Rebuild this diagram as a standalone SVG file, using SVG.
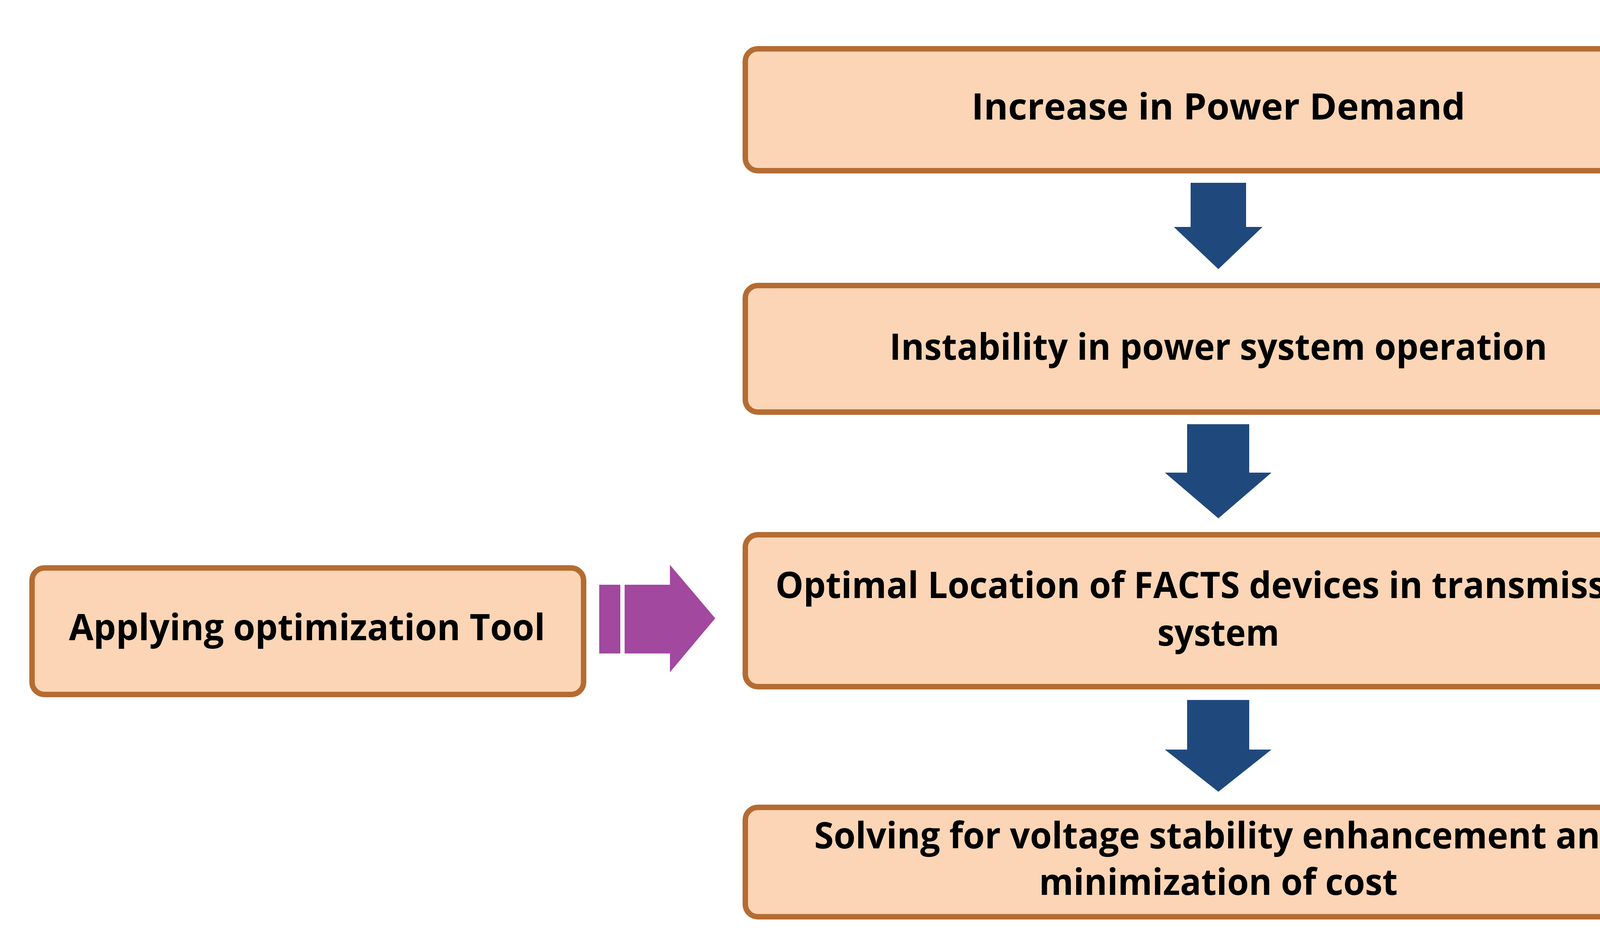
<svg xmlns="http://www.w3.org/2000/svg" width="4422" height="2427" viewBox="0 0 4422 2427">
<style>
.box{fill:#FBD5B5;stroke:#B46C32;stroke-width:14}
.t{font-family:"Open Sans","Liberation Sans",sans-serif;font-weight:bold;font-size:94px;fill:#000;text-anchor:middle}
.blue{fill:#1F497D}
.purple{fill:#A2489F}
</style>
<rect width="4422" height="2427" fill="#fff"/>
<g id="n1"><rect class="box" x="1908" y="125" width="2430" height="312" rx="32"/>
<text class="t" x="3119" y="306" textLength="1264" lengthAdjust="spacingAndGlyphs">Increase in Power Demand</text></g>
<g id="n2"><rect class="box" x="1908" y="731" width="2430" height="324" rx="32"/>
<text class="t" x="3119" y="921" textLength="1684" lengthAdjust="spacingAndGlyphs">Instability in power system operation</text></g>
<g id="n3"><rect class="box" x="1908" y="1369" width="2430" height="389" rx="32"/>
<text class="t" x="3119" y="1531" textLength="2268" lengthAdjust="spacingAndGlyphs">Optimal Location of FACTS devices in transmission</text>
<text class="t" x="3119" y="1653" textLength="312" lengthAdjust="spacingAndGlyphs">system</text></g>
<g id="n4"><rect class="box" x="1908" y="2067" width="2430" height="280" rx="32"/>
<text class="t" x="3119" y="2172" textLength="2069" lengthAdjust="spacingAndGlyphs">Solving for voltage stability enhancement and</text>
<text class="t" x="3119" y="2291" textLength="918" lengthAdjust="spacingAndGlyphs">minimization of cost</text></g>
<g id="n5"><rect class="box" x="82" y="1454" width="1412" height="324" rx="32"/>
<text class="t" x="786" y="1639" textLength="1219" lengthAdjust="spacingAndGlyphs">Applying optimization Tool</text></g>
<g id="connectors">
<polygon class="blue" points="3048,468 3190,468 3190,581 3232,581 3119,689 3005,581 3048,581"/>
<polygon class="blue" points="3039,1086 3198,1086 3198,1210 3255,1210 3119,1327 2982,1210 3039,1210"/>
<polygon class="blue" points="3039,1792 3198,1792 3198,1919 3255,1919 3119,2027 2982,1919 3039,1919"/>
<rect class="purple" x="1534" y="1497" width="54" height="176"/>
<polygon class="purple" points="1599,1497 1715,1497 1715,1446 1831,1583 1715,1721 1715,1673 1599,1673"/>
</g>
</svg>
